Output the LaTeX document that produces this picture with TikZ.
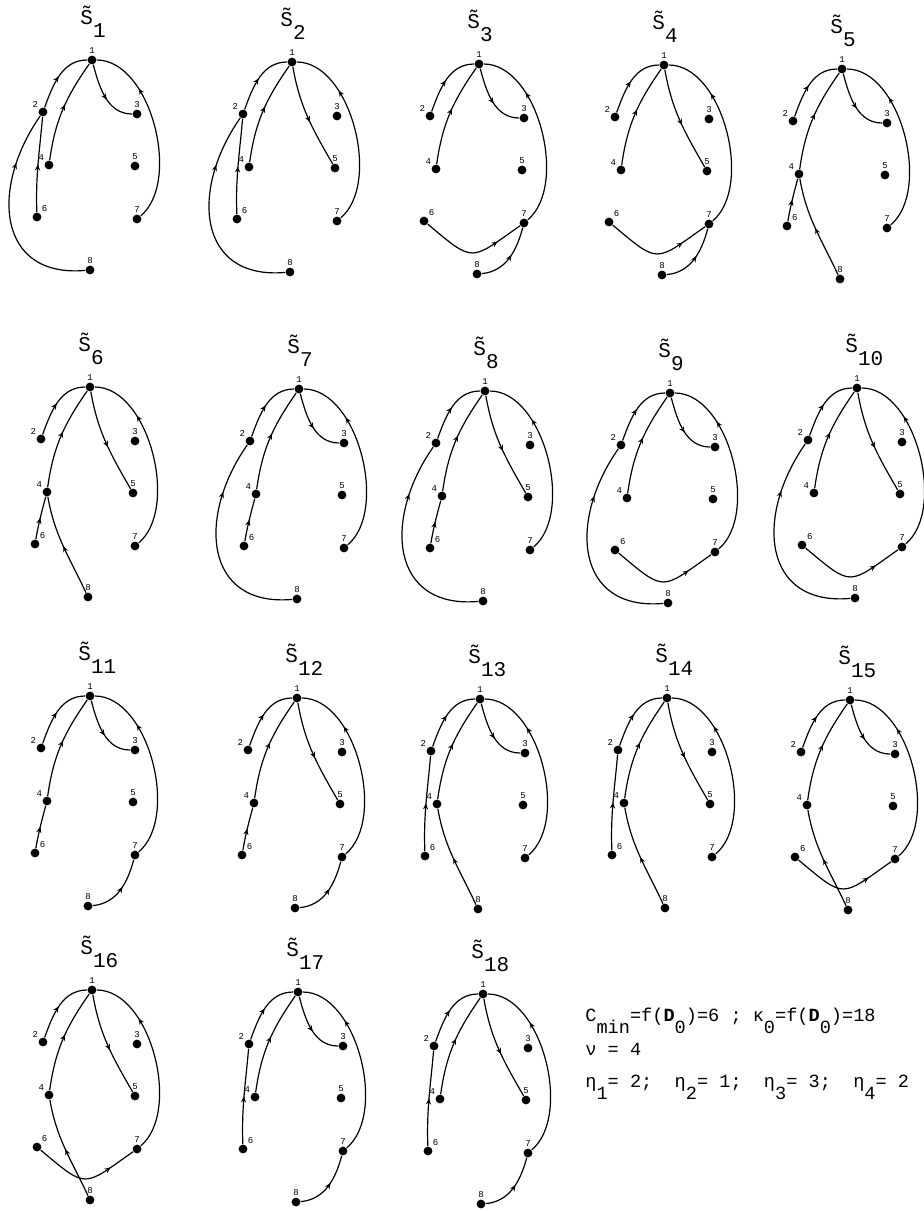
\documentclass[tikz,border=0pt]{standalone}
\usepackage{fontspec}
\setmonofont{Liberation Mono}
\usetikzlibrary{arrows.meta,decorations.markings}

\tikzset{
  dot/.style={circle,fill,inner sep=0pt,minimum size=4.4pt},
  lbl/.style={font=\ttfamily\fontsize{4.5}{5}\selectfont,inner sep=0.6pt},
  title/.style={font=\ttfamily\fontsize{10.5}{12}\selectfont,inner sep=0pt},
  info/.style={font=\ttfamily\fontsize{9.3}{11}\selectfont,inner sep=0pt},
  link/.style={line width=0.6pt},
  midarrow/.style={postaction={decorate,decoration={markings,
      mark=at position #1 with {\arrow{Stealth[length=3pt,width=2.6pt]}}}}},
  % edges, named by tail and head
  e21/.style={out=70,in=180,midarrow=0.5},
  e41/.style={out=82,in=235,midarrow=0.55},
  e71/.style={out=40,in=0,looseness=0.85,midarrow=0.72},
  e13/.style={out=-75,in=180,midarrow=0.55},
  e15/.style={out=-80,in=120,midarrow=0.55},
  e62/.style={out=92,in=-95,midarrow=0.5},
  e82/.style={out=185,in=235,looseness=1.4,midarrow=0.75},
  e64/.style={out=80,in=-105,midarrow=0.5},
  e84/.style={out=115,in=-80,midarrow=0.5},
  e67/.style={out=-40,in=215,looseness=1.7,midarrow=0.75},
  e87/.style={out=5,in=255,midarrow=0.55},
}

% #1 index, #2 x, #3 y (downwards), #4 head of 1, #5 head of 6, #6 head of 8
\newcommand{\sgraph}[6]{%
  \begin{scope}[shift={(#2,-#3)}]
    \node[title,anchor=base west] (s#1t) at (-12,36) {\~{S}\raisebox{-6.5pt}{#1}};
    \node[dot,label={[lbl]above:1}] (s#1n1) at (0,0) {};
    \node[dot,label={[lbl]above left:2}] (s#1n2) at (-49,-52) {};
    \node[dot,label={[lbl]above:3}] (s#1n3) at (45,-54) {};
    \node[dot,label={[lbl]above left:4}] (s#1n4) at (-43,-105) {};
    \node[dot,label={[lbl]above:5}] (s#1n5) at (43,-106) {};
    \node[dot,label={[lbl]above right:6}] (s#1n6) at (-55,-157) {};
    \node[dot,label={[lbl]above:7}] (s#1n7) at (45,-159) {};
    \node[dot,label={[lbl]above:8}] (s#1n8) at (-2,-210) {};
    \draw[link,e21] (s#1n2) to (s#1n1);
    \draw[link,e41] (s#1n4) to (s#1n1);
    \draw[link,e71] (s#1n7) to (s#1n1);
    \draw[link,e1#4] (s#1n1) to (s#1n#4);
    \draw[link,e6#5] (s#1n6) to (s#1n#5);
    \draw[link,e8#6] (s#1n8) to (s#1n#6);
  \end{scope}}

\begin{document}
\begin{tikzpicture}[x=0.5pt,y=0.5pt]
  \useasboundingbox (0,0) rectangle (924,-1211);
  \sgraph{1}{92}{60}{3}{2}{2}
  \sgraph{2}{292}{62}{5}{2}{2}
  \sgraph{3}{479}{64}{3}{7}{7}
  \sgraph{4}{664}{65}{5}{7}{7}
  \sgraph{5}{842}{69}{3}{4}{4}
  \sgraph{6}{90}{387}{5}{4}{4}
  \sgraph{7}{299}{389}{3}{4}{2}
  \sgraph{8}{485}{391}{5}{4}{2}
  \sgraph{9}{670}{393}{3}{7}{2}
  \sgraph{10}{857}{388}{5}{7}{2}
  \sgraph{11}{90}{696}{3}{4}{7}
  \sgraph{12}{297}{698}{5}{4}{7}
  \sgraph{13}{480}{699}{3}{2}{4}
  \sgraph{14}{667}{698}{5}{2}{4}
  \sgraph{15}{850}{700}{3}{7}{4}
  \sgraph{16}{92}{990}{5}{7}{4}
  \sgraph{17}{298}{992}{3}{2}{7}
  \sgraph{18}{483}{994}{5}{2}{7}
  % summary
  \node[info,anchor=base west] (cmin) at (585,-1021)
    {C\raisebox{-6pt}{min}=f(\textbf{D}\raisebox{-6pt}{0})=6 ; κ\raisebox{-6pt}{0}=f(\textbf{D}\raisebox{-6pt}{0})=18};
  \node[info,anchor=base west] (nu) at (585,-1055) {ν = 4};
  \node[info,anchor=base west] (eta) at (585,-1087)
    {η\raisebox{-6pt}{1}= 2;\ \ η\raisebox{-6pt}{2}= 1;\ \ η\raisebox{-6pt}{3}= 3;\ \ η\raisebox{-6pt}{4}= 2};
\end{tikzpicture}
\end{document}
